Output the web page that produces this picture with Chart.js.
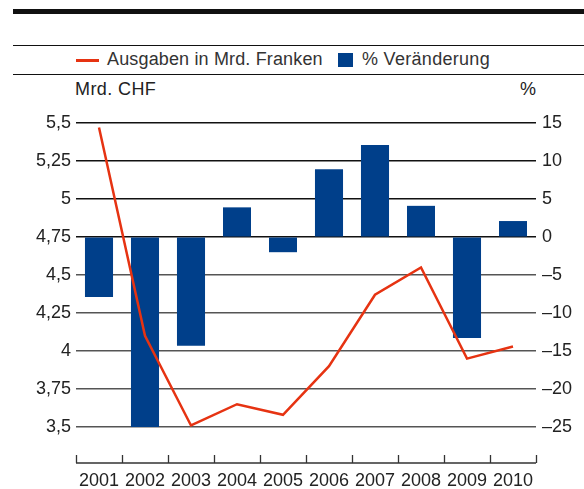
<!DOCTYPE html>
<html>
<head>
<meta charset="utf-8">
<script src="https://cdn.jsdelivr.net/npm/chart.js@4"></script>
<style>
  body { margin: 0; background: #fff; font-family: "Liberation Sans", Arial, sans-serif; }
  #wrap { position: relative; width: 584px; height: 489px; overflow: hidden; }
  .rule { position: absolute; left: 13px; right: 0; background: #111; }
  .txt { position: absolute; font-size: 18px; color: #222; white-space: nowrap; line-height: 18px; }
  #chartCanvas { position: absolute; left: 0; top: 0; }
</style>
</head>
<body>
<div id="wrap">
  <div class="rule" style="top:9px;height:5px;"></div>
  <div class="rule" style="top:45px;height:1px;"></div>
  <div class="rule" style="top:74px;height:1px;"></div>

  <div style="position:absolute;left:76px;top:59px;width:23px;height:2.5px;background:#e63312;"></div>
  <div class="txt" style="left:107px;top:50px;color:#333;letter-spacing:0.15px;">Ausgaben in Mrd. Franken</div>
  <div style="position:absolute;left:338px;top:53px;width:15px;height:14px;background:#003f8a;"></div>
  <div class="txt" style="left:362px;top:50px;color:#333;letter-spacing:0.3px;">% Veränderung</div>

  <div class="txt" style="left:75px;top:80px;letter-spacing:0.4px;">Mrd. CHF</div>
  <div class="txt" style="left:520px;top:80px;">%</div>

  <canvas id="chartCanvas" width="584" height="489"></canvas>
</div>
<script>
const years = ["2001", "2002", "2003", "2004", "2005", "2006", "2007", "2008", "2009", "2010"];
const ausgaben = [5.47, 4.10, 3.51, 3.65, 3.58, 3.90, 4.37, 4.55, 3.95, 4.03];
const veraenderung = [-7.9, -25.0, -14.3, 3.9, -2.0, 8.9, 12.1, 4.1, -13.3, 2.1];
const leftTicks = [3.5, 3.75, 4, 4.25, 4.5, 4.75, 5, 5.25, 5.5];
const rightTicks = [-25, -20, -15, -10, -5, 0, 5, 10, 15];

// x-axis line with small upward ticks between years
const xAxisLine = {
    id: "xAxisLine",
    afterDraw(chart) {
        const ctx = chart.ctx;
        const area = chart.chartArea;
        const x = chart.scales.x;
        const step = x.getPixelForValue(1) - x.getPixelForValue(0);
        ctx.save();
        ctx.strokeStyle = "#333";
        ctx.lineWidth = 1.3;
        ctx.beginPath();
        ctx.moveTo(area.left, area.bottom);
        ctx.lineTo(area.right, area.bottom);
        for (let i = 0; i <= years.length; i++) {
            const px = Math.round(x.getPixelForValue(i) - step / 2) + 0.5;
            ctx.moveTo(px, area.bottom);
            ctx.lineTo(px, area.bottom - 8);
        }
        ctx.stroke();
        ctx.restore();
    }
};

const font = { family: "'Liberation Sans', Arial, sans-serif", size: 18 };

let ctx = document.querySelector("#chartCanvas");

let chart = new Chart(ctx, {
    type: "bar",
    data: {
        labels: years,
        datasets: [
            {
                type: "line",
                label: "Ausgaben in Mrd. Franken",
                data: ausgaben,
                yAxisID: "y",
                borderColor: "#e63312",
                borderWidth: 2.5,
                pointRadius: 0,
                tension: 0,
                order: 0
            },
            {
                label: "% Veränderung",
                data: veraenderung,
                yAxisID: "y1",
                backgroundColor: "#003f8a",
                barPercentage: 0.61,
                categoryPercentage: 1,
                order: 1
            }
        ]
    },
    options: {
        responsive: false,
        animation: false,
        layout: { padding: { top: 123, bottom: 0, left: 0, right: 0 } },
        plugins: {
            legend: { display: false },
            tooltip: { enabled: false }
        },
        scales: {
            x: {
                offset: true,
                grid: { display: false, drawTicks: false },
                border: { display: false },
                ticks: { font: font, color: "#222", padding: 7, maxRotation: 0, autoSkip: false },
                afterFit: (scale) => { scale.height = 26; }
            },
            y: {
                position: "left",
                min: 3.5 - 36 / 152,
                max: 5.5,
                afterBuildTicks: (scale) => { scale.ticks = leftTicks.map(v => ({ value: v })); },
                afterFit: (scale) => { scale.width = 76; },
                border: { display: false },
                grid: {
                    drawTicks: false,
                    color: (c) => c.tick && c.tick.value >= 4.75 ? "#111" : "#555",
                    lineWidth: 1.4
                },
                ticks: {
                    font: font,
                    color: "#222",
                    padding: 5,
                    callback: (v) => String(v).replace(".", ",")
                }
            },
            y1: {
                position: "right",
                min: -25 - 36 / 7.6,
                max: 15,
                afterBuildTicks: (scale) => { scale.ticks = rightTicks.map(v => ({ value: v })); },
                afterFit: (scale) => { scale.width = 48; },
                border: { display: false },
                grid: { drawOnChartArea: false, drawTicks: false },
                ticks: {
                    font: font,
                    color: "#222",
                    padding: 6,
                    callback: (v) => v < 0 ? "\u2013" + Math.abs(v) : String(v)
                }
            }
        }
    },
    plugins: [xAxisLine]
});
</script>
</body>
</html>
